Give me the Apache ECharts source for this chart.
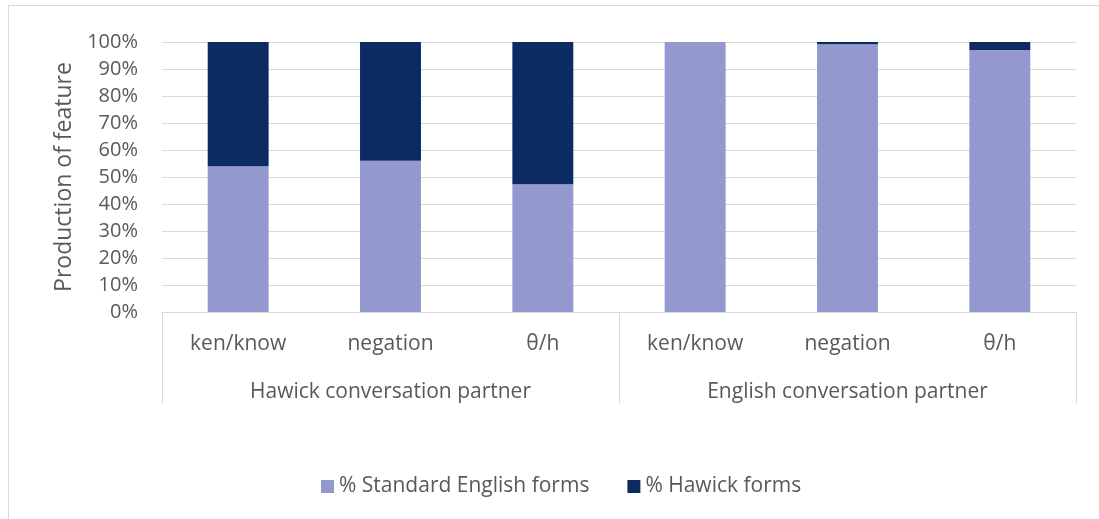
<!DOCTYPE html>
<html>
<head>
<meta charset="utf-8">
<script src="https://cdn.jsdelivr.net/npm/echarts@6/dist/echarts.min.js"></script>
<style>
  html, body { margin: 0; padding: 0; background: #ffffff; }
  #chart { width: 1099px; height: 519px; }
</style>
</head>
<body>
<div id="chart"></div>
<script>
// Features, grouped by conversation partner
const features = ['ken/know', 'negation', 'θ/h', 'ken/know', 'negation', 'θ/h'];
const partnerGroups = ['Hawick conversation partner', 'English conversation partner'];

// Share of each feature's tokens (%)
const standardEnglish = [54, 56, 47.3, 100, 99.2, 97];
const hawickForms = [46, 44, 52.7, 0, 0.8, 3];

const yTicks = { min: 0, max: 100, interval: 10 };

const textColor = '#595959';
const lineColor = '#d9d9d9';
const fontFamily = '"Open Sans", Lato, sans-serif';

const chart = echarts.init(document.getElementById('chart'));

chart.setOption({
  animation: false,
  backgroundColor: '#ffffff',
  textStyle: { fontFamily: fontFamily, color: textColor },
  graphic: [{
    type: 'rect',
    shape: { x: 8.5, y: 5.5, width: 1200, height: 600 },
    style: { fill: 'none', stroke: lineColor, lineWidth: 1 },
    silent: true,
    z: -1
  }],
  grid: { left: 162, right: 23, top: 42, bottom: 207, containLabel: false },
  legend: {
    data: ['% Standard English forms', '% Hawick forms'],
    left: 316,
    top: 471,
    itemWidth: 13,
    itemHeight: 13,
    itemGap: 38,
    icon: 'rect',
    textStyle: { fontFamily: fontFamily, fontSize: 21, color: textColor }
  },
  xAxis: [
    {
      type: 'category',
      data: features,
      axisLine: { show: true, lineStyle: { color: lineColor, width: 1 } },
      axisTick: { show: false },
      splitLine: { show: false },
      axisLabel: {
        interval: 0,
        margin: 22,
        fontSize: 21,
        color: textColor,
        fontFamily: fontFamily
      }
    },
    {
      type: 'category',
      data: partnerGroups,
      position: 'bottom',
      axisLine: { show: false },
      axisTick: {
        show: true,
        interval: 0,
        alignWithLabel: false,
        length: 92,
        lineStyle: { color: lineColor, width: 1 }
      },
      splitLine: { show: false },
      axisLabel: {
        interval: 0,
        margin: 70,
        fontSize: 21,
        color: textColor,
        fontFamily: fontFamily
      }
    }
  ],
  yAxis: {
    type: 'value',
    min: yTicks.min,
    max: yTicks.max,
    interval: yTicks.interval,
    name: 'Production of feature',
    nameLocation: 'middle',
    nameGap: 86,
    nameTextStyle: { fontSize: 23, color: textColor, fontFamily: fontFamily },
    axisLine: { show: false },
    axisTick: { show: false },
    splitLine: { show: true, lineStyle: { color: lineColor, width: 1 } },
    axisLabel: {
      formatter: '{value}%',
      margin: 24,
      fontSize: 20,
      color: textColor,
      fontFamily: fontFamily
    }
  },
  series: [
    {
      name: '% Standard English forms',
      type: 'bar',
      stack: 'share',
      xAxisIndex: 0,
      barWidth: '40%',
      data: standardEnglish,
      itemStyle: { color: '#9399cf' }
    },
    {
      name: '% Hawick forms',
      type: 'bar',
      stack: 'share',
      xAxisIndex: 0,
      barWidth: '40%',
      data: hawickForms,
      itemStyle: { color: '#0b2b62' }
    }
  ]
});
</script>
</body>
</html>
